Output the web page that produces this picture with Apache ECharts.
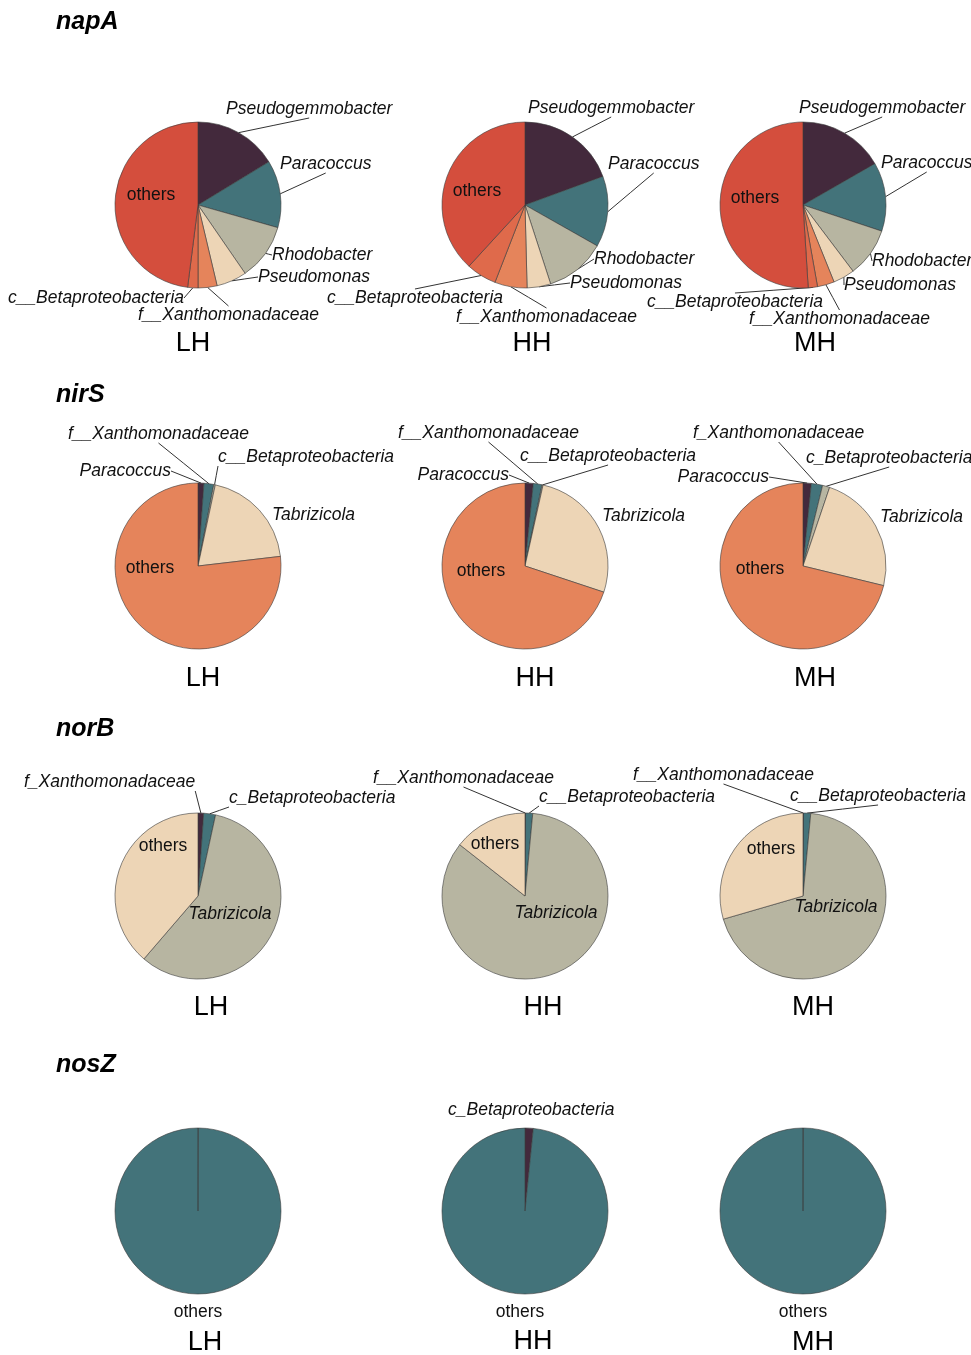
<!DOCTYPE html>
<html>
<head>
<meta charset="utf-8">
<script src="https://cdn.jsdelivr.net/npm/echarts@6/dist/echarts.min.js"></script>
<style>
  html, body { margin: 0; padding: 0; background: #ffffff; }
  #chart { width: 971px; height: 1355px; }
</style>
</head>
<body>
<div id="chart"></div>
<script>
// ---- data: relative abundance (%) of each taxon per gene and sample ----
const samples = ['LH', 'HH', 'MH'];
const genes = ['napA', 'nirS', 'norB', 'nosZ'];

const napA_names = ['Pseudogemmobacter', 'Paracoccus', 'Rhodobacter', 'Pseudomonas',
                    'f__Xanthomonadaceae', 'c__Betaproteobacteria', 'others'];
const napA_LH = [16.3, 13.1, 11.0, 5.9, 3.7, 2.0, 48.0];
const napA_HH = [19.4, 13.8, 11.8, 4.6, 6.3, 5.9, 38.2];
const napA_MH = [16.7, 13.4, 9.6, 4.2, 3.3, 1.8, 51.0];

const nirS_names_LH = ['Paracoccus', 'f__Xanthomonadaceae', 'c__Betaproteobacteria', 'Tabrizicola', 'others'];
const nirS_names_HH = ['Paracoccus', 'f__Xanthomonadaceae', 'c__Betaproteobacteria', 'Tabrizicola', 'others'];
const nirS_names_MH = ['Paracoccus', 'f_Xanthomonadaceae', 'c_Betaproteobacteria', 'Tabrizicola', 'others'];
const nirS_LH = [1.15, 1.9, 0.3, 19.8, 76.85];
const nirS_HH = [1.6, 1.7, 0.2, 26.6, 69.9];
const nirS_MH = [1.6, 2.2, 1.4, 23.6, 71.2];

const norB_names_LH = ['f_Xanthomonadaceae', 'c_Betaproteobacteria', 'Tabrizicola', 'others'];
const norB_names_HH = ['f__Xanthomonadaceae', 'c__Betaproteobacteria', 'Tabrizicola', 'others'];
const norB_names_MH = ['f__Xanthomonadaceae', 'c__Betaproteobacteria', 'Tabrizicola', 'others'];
const norB_LH = [1.1, 2.3, 57.9, 38.7];
const norB_HH = [0.1, 1.4, 84.1, 14.4];
const norB_MH = [0.1, 1.4, 69.0, 29.5];

const nosZ_names = ['c_Betaproteobacteria', 'others'];
const nosZ_LH = [0.05, 99.95];
const nosZ_HH = [1.6, 98.4];
const nosZ_MH = [0.05, 99.95];

// ---- styling ----
const palette = {
  napA: ['#43293C', '#43737A', '#B7B5A1', '#EDD5B6', '#E5845B', '#DF6A4B', '#D44E3D'],
  nirS: ['#43293C', '#43737A', '#B7B5A1', '#EDD5B6', '#E5845B'],
  norB: ['#43293C', '#43737A', '#B7B5A1', '#EDD5B6'],
  nosZ: ['#43293C', '#43737A']
};
const FONT = '"Liberation Sans", Arial, Helvetica, sans-serif';
const RADIUS = 83;
const colX = [198, 525, 803];
const rowY = [205, 566, 896, 1211];

// label anchor spots per pie: name -> [x, y, align]
const labelSpots = {
  napA: [
    { 'Pseudogemmobacter': [226, 109], 'Paracoccus': [280, 164], 'Rhodobacter': [272, 255],
      'Pseudomonas': [258, 277], 'f__Xanthomonadaceae': [138, 315],
      'c__Betaproteobacteria': [184, 298, 'right'], 'others': [151, 195, 'center'] },
    { 'Pseudogemmobacter': [528, 108], 'Paracoccus': [608, 164], 'Rhodobacter': [594, 259],
      'Pseudomonas': [570, 283], 'f__Xanthomonadaceae': [456, 317],
      'c__Betaproteobacteria': [503, 298, 'right'], 'others': [477, 191, 'center'] },
    { 'Pseudogemmobacter': [799, 108], 'Paracoccus': [881, 163], 'Rhodobacter': [872, 261],
      'Pseudomonas': [844, 285], 'f__Xanthomonadaceae': [749, 319],
      'c__Betaproteobacteria': [823, 302, 'right'], 'others': [755, 198, 'center'] }
  ],
  nirS: [
    { 'Paracoccus': [171, 471, 'right'], 'f__Xanthomonadaceae': [68, 434], 'c__Betaproteobacteria': [218, 457],
      'Tabrizicola': [272, 515], 'others': [150, 568, 'center'] },
    { 'Paracoccus': [509, 475, 'right'], 'f__Xanthomonadaceae': [398, 433], 'c__Betaproteobacteria': [520, 456],
      'Tabrizicola': [602, 516], 'others': [481, 571, 'center'] },
    { 'Paracoccus': [769, 477, 'right'], 'f_Xanthomonadaceae': [693, 433], 'c_Betaproteobacteria': [806, 458],
      'Tabrizicola': [880, 517], 'others': [760, 569, 'center'] }
  ],
  norB: [
    { 'f_Xanthomonadaceae': [24, 782], 'c_Betaproteobacteria': [229, 798],
      'Tabrizicola': [230, 914, 'center'], 'others': [163, 846, 'center'] },
    { 'f__Xanthomonadaceae': [373, 778], 'c__Betaproteobacteria': [539, 797],
      'Tabrizicola': [556, 913, 'center'], 'others': [495, 844, 'center'] },
    { 'f__Xanthomonadaceae': [633, 775], 'c__Betaproteobacteria': [790, 796],
      'Tabrizicola': [836, 907, 'center'], 'others': [771, 849, 'center'] }
  ],
  nosZ: [
    { 'others': [198, 1312, 'center'] },
    { 'c_Betaproteobacteria': [448, 1110], 'others': [520, 1312, 'center'] },
    { 'others': [803, 1312, 'center'] }
  ]
};

const pies = [
  { gene: 'napA', names: [napA_names, napA_names, napA_names], values: [napA_LH, napA_HH, napA_MH] },
  { gene: 'nirS', names: [nirS_names_LH, nirS_names_HH, nirS_names_MH], values: [nirS_LH, nirS_HH, nirS_MH] },
  { gene: 'norB', names: [norB_names_LH, norB_names_HH, norB_names_MH], values: [norB_LH, norB_HH, norB_MH] },
  { gene: 'nosZ', names: [nosZ_names, nosZ_names, nosZ_names], values: [nosZ_LH, nosZ_HH, nosZ_MH] }
];

function buildItem(gene, name, value, color, spot) {
  const isOthers = name === 'others';
  const inside = (isOthers && gene !== 'nosZ') || (gene === 'norB' && name === 'Tabrizicola');
  const noLine = inside || (gene === 'nosZ') || (gene === 'nirS' && name === 'Tabrizicola');
  return {
    name: name,
    value: value,
    itemStyle: { color: color },
    label: {
      show: !!spot,
      position: inside ? 'inside' : 'outside',
      fontStyle: isOthers ? 'normal' : 'italic',
      fontSize: 17.5,
      fontFamily: FONT,
      color: '#111111'
    },
    labelLine: { show: !!spot && !noLine }
  };
}

// straight leader from the slice's outer edge to the facing edge of its label
function leaderEnd(anchor, spot, w, h) {
  const align = spot[2] || 'left';
  const left = align === 'left' ? spot[0] : align === 'right' ? spot[0] - w : spot[0] - w / 2;
  const right = left + w, top = spot[1] - h / 2, bottom = spot[1] + h / 2;
  if (anchor[1] >= top - 4 && anchor[1] <= bottom + 4) {
    return anchor[0] < left ? [left, spot[1]] : [right, spot[1]];
  }
  const ey = anchor[1] > bottom ? bottom : top;
  const ex = anchor[0] < left - 2 ? left : anchor[0] > right + 2 ? right : (left + right) / 2;
  return [ex, ey];
}

const series = [];
pies.forEach((row, r) => {
  samples.forEach((s, c) => {
    const spots = labelSpots[row.gene][c];
    const names = row.names[c];
    const data = names.map((n, i) => buildItem(row.gene, n, row.values[c][i], palette[row.gene][i], spots[n]));
    series.push({
      type: 'pie',
      name: row.gene + ' ' + s,
      center: [colX[c], rowY[r]],
      radius: [0, RADIUS],
      startAngle: 90,
      clockwise: true,
      minAngle: 0,
      avoidLabelOverlap: false,
      animation: false,
      silent: true,
      itemStyle: { borderColor: '#3a3a3a', borderWidth: 0.6 },
      label: { formatter: '{b}', distanceToLabelLine: 0 },
      labelLine: { length: 8, length2: 8, lineStyle: { color: '#333333', width: 1 } },
      labelLayout: function (p) {
        const spot = spots[names[p.dataIndex]];
        if (!spot) return {};
        const out = { x: spot[0], y: spot[1], align: spot[2] || 'left', verticalAlign: 'middle' };
        const pts = p.labelLinePoints;
        if (pts && pts.length && p.labelRect) {
          const a = pts[0];
          const end = leaderEnd(a, spot, p.labelRect.width, p.labelRect.height);
          out.labelLinePoints = [a, [(a[0] + end[0]) / 2, (a[1] + end[1]) / 2], end];
        }
        return out;
      },
      data: data
    });
  });
});

// gene headings and sample captions
const headingY = [22, 395, 729, 1065];
const captionPos = [
  [[193, 344], [532, 344], [815, 344]],
  [[203, 679], [535, 679], [815, 679]],
  [[211, 1008], [543, 1008], [813, 1008]],
  [[205, 1343], [533, 1342], [813, 1343]]
];
const graphics = [];
genes.forEach((g, r) => {
  graphics.push({
    type: 'text', x: 56, y: headingY[r],
    style: { text: g, font: 'italic bold 25px ' + FONT, fill: '#000', textVerticalAlign: 'middle', textAlign: 'left' }
  });
  samples.forEach((s, c) => {
    graphics.push({
      type: 'text', x: captionPos[r][c][0], y: captionPos[r][c][1],
      style: { text: s, font: '27px ' + FONT, fill: '#000', textVerticalAlign: 'middle', textAlign: 'center' }
    });
  });
});

const chart = echarts.init(document.getElementById('chart'), null, { renderer: 'canvas' });
chart.setOption({
  backgroundColor: '#ffffff',
  animation: false,
  graphic: graphics,
  series: series
});
</script>
</body>
</html>
